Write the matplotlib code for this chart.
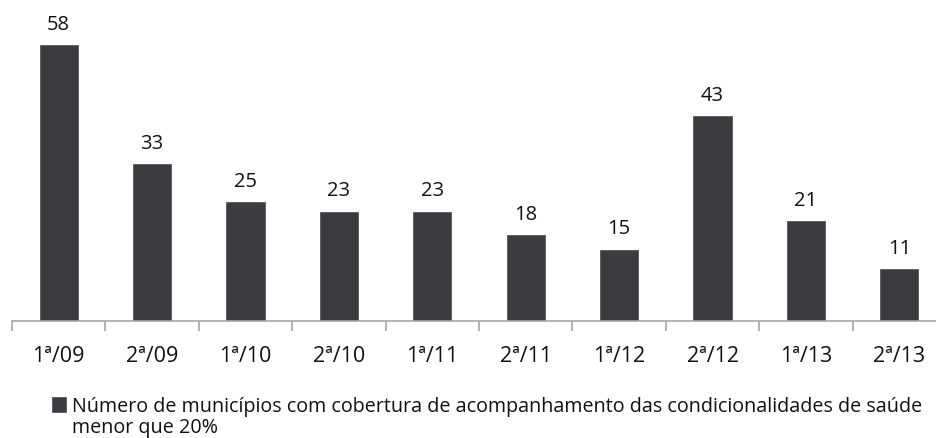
import numpy as np
import matplotlib.pyplot as plt
from matplotlib.patches import Patch

plt.rcParams['font.family'] = ['Open Sans', 'DejaVu Sans']

periodos = ['1ª/09', '2ª/09', '1ª/10', '2ª/10', '1ª/11', '2ª/11', '1ª/12', '2ª/12', '1ª/13', '2ª/13']
municipios = [58, 33, 25, 23, 23, 18, 15, 43, 21, 11]
legenda_l1 = 'Número de municípios com cobertura de acompanhamento das condicionalidades de saúde'
legenda_l2 = 'menor que 20%'

W, H = 936, 439
fig = plt.figure(figsize=(W / 100, H / 100), dpi=100)
# axes run slightly past the right edge, as in the original crop
ax = fig.add_axes([12 / W, (H - 322) / H, 934 / W, 322 / H])

x = np.arange(len(periodos))
bars = ax.bar(x, municipios, width=0.41, color='#3a3c3f', edgecolor='#55575a', linewidth=0.6)
for b, v in zip(bars, municipios):
    ax.annotate(str(v), (b.get_x() + b.get_width() / 2, v), xytext=(0, 8),
                textcoords='offset points', ha='center', va='bottom', fontsize=14.5, color='#111111')

ax.set_xlim(-0.5, len(periodos) - 0.5)
ax.set_ylim(0, 322 / 4.76)
for s in ['top', 'right', 'left']:
    ax.spines[s].set_visible(False)
ax.spines['bottom'].set_color('#a6a6a6')
ax.spines['bottom'].set_linewidth(1.2)
ax.set_yticks([])

ax.set_xticks(x)
ax.set_xticklabels(periodos, fontsize=15.5, color='#111111')
ax.tick_params(axis='x', which='major', length=0, pad=17)
ax.set_xticks(np.arange(-0.5, len(periodos), 1), minor=True)
ax.tick_params(axis='x', which='minor', length=7, width=1.2, color='#a6a6a6', direction='out')

# second line of the legend label sits under the text, with no marker
blank = Patch(facecolor='none', edgecolor='none')
fig.legend([bars, blank], [legenda_l1, legenda_l2], loc='upper left',
           bbox_to_anchor=(52 / W, 1 - 397 / H), frameon=False,
           prop={'size': 14.2}, handlelength=0.72, handleheight=0.78, handletextpad=0.3,
           borderaxespad=0, borderpad=0, labelspacing=0.05, labelcolor='#111111')

fig.savefig('out.png', dpi=100)
